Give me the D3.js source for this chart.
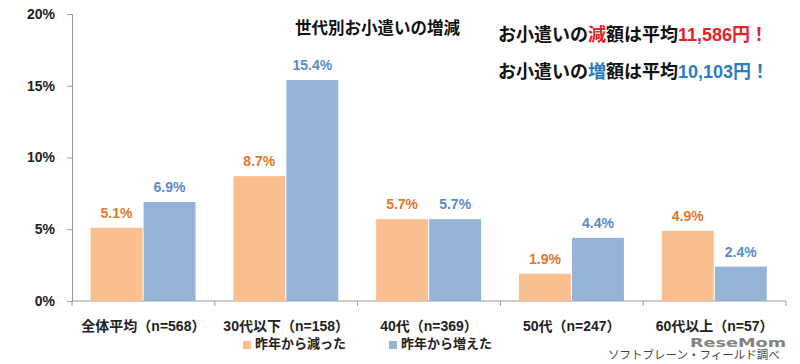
<!DOCTYPE html>
<html>
<head>
<meta charset="utf-8">
<script src="https://cdn.jsdelivr.net/npm/d3@7"></script>
<style>
  body { margin: 0; background: #fff; }
  svg text { font-family: "Liberation Sans", "Noto Sans CJK JP", sans-serif; }
</style>
</head>
<body>
<script>
// data
var categories = ["全体平均（n=568）", "30代以下（n=158）", "40代（n=369）", "50代（n=247）", "60代以上（n=57）"];
var seriesNames = ["昨年から減った", "昨年から増えた"];
var decreased = [5.1, 8.7, 5.7, 1.9, 4.9];
var increased = [6.9, 15.4, 5.7, 4.4, 2.4];
var yTicks = [0, 5, 10, 15, 20];

var barColors = ["#f9bf8f", "#95b3d7"];
var labelColors = ["#e3772a", "#5a8bc8"];

var width = 800, height = 364;

var svg = d3.select("body")
    .append("svg")
    .attr("width", width)
    .attr("height", height);

var x0 = d3.scaleBand()
    .domain(categories)
    .range([72, 786]);

var x1 = d3.scaleBand()
    .domain(seriesNames)
    .range([x0.bandwidth() * 0.13, x0.bandwidth() * 0.865])
    .paddingInner(0.02);

var y = d3.scaleLinear()
    .domain([0, 20])
    .range([301, 14]);

// y axis
var yAxis = svg.append("g")
    .attr("transform", "translate(72,0)")
    .call(d3.axisLeft(y).tickValues(yTicks).tickSize(5).tickFormat(function(d) { return d + "%"; }));
yAxis.select(".domain").attr("stroke", "#9a9a9a");
yAxis.selectAll(".tick line").attr("stroke", "#9a9a9a");
yAxis.selectAll(".tick text")
    .attr("x", -17)
    .attr("font-size", 14)
    .attr("font-weight", "bold")
    .attr("fill", "#222")
    .style("font-family", "\"Liberation Sans\", sans-serif");

// x axis, ticks on category boundaries
var xAxis = svg.append("g")
    .attr("transform", "translate(0," + y(0) + ")");
xAxis.append("line")
    .attr("x1", x0.range()[0]).attr("x2", x0.range()[1])
    .attr("stroke", "#9a9a9a");
xAxis.selectAll(".bound")
    .data(categories.concat([null]))
    .enter().append("line")
    .attr("class", "bound")
    .attr("x1", function(d, i) { return x0.range()[0] + i * x0.step(); })
    .attr("x2", function(d, i) { return x0.range()[0] + i * x0.step(); })
    .attr("y1", 0).attr("y2", 5)
    .attr("stroke", "#9a9a9a");
xAxis.selectAll(".cat")
    .data(categories)
    .enter().append("text")
    .attr("class", "cat")
    .attr("x", function(d) { return x0(d) + x0.bandwidth() / 2; })
    .attr("y", 30)
    .attr("text-anchor", "middle")
    .attr("font-size", 14)
    .attr("font-weight", "bold")
    .attr("fill", "#222")
    .text(function(d) { return d; });

// bars
var rows = categories.map(function(c, i) {
    return { cat: c, vals: [decreased[i], increased[i]] };
});

var groups = svg.append("g").selectAll("g")
    .data(rows)
    .enter().append("g")
    .attr("transform", function(d) { return "translate(" + x0(d.cat) + ",0)"; });

groups.selectAll("rect")
    .data(function(d) { return d.vals.map(function(v, j) { return { s: j, v: v }; }); })
    .enter().append("rect")
    .attr("x", function(d) { return x1(seriesNames[d.s]); })
    .attr("width", x1.bandwidth())
    .attr("y", function(d) { return y(d.v); })
    .attr("height", function(d) { return y(0) - y(d.v); })
    .attr("fill", function(d) { return barColors[d.s]; });

groups.selectAll("text")
    .data(function(d) { return d.vals.map(function(v, j) { return { s: j, v: v }; }); })
    .enter().append("text")
    .attr("x", function(d) { return x1(seriesNames[d.s]) + x1.bandwidth() / 2; })
    .attr("y", function(d) { return y(d.v) - 10; })
    .attr("text-anchor", "middle")
    .attr("font-size", 14)
    .attr("font-weight", "bold")
    .attr("fill", function(d) { return labelColors[d.s]; })
    .text(function(d) { return d.v.toFixed(1) + "%"; });

// title
svg.append("text")
    .attr("x", 295).attr("y", 34)
    .attr("font-size", 16.5)
    .attr("font-weight", "bold")
    .attr("fill", "#111")
    .text("世代別お小遣いの増減");

// callouts
var notes = [
    { y: 41, pre: "お小遣いの", key: "減", mid: "額は平均", amt: "11,586円！", color: "#e8202a" },
    { y: 78, pre: "お小遣いの", key: "増", mid: "額は平均", amt: "10,103円！", color: "#2a7cc7" }
];
notes.forEach(function(n) {
    var t = svg.append("text")
        .attr("x", 498).attr("y", n.y)
        .attr("font-size", 18)
        .attr("font-weight", "bold")
        .attr("fill", "#111");
    t.append("tspan").text(n.pre);
    t.append("tspan").attr("fill", n.color).text(n.key);
    t.append("tspan").text(n.mid);
    t.append("tspan").attr("fill", n.color).text(n.amt);
});

// legend
var legend = svg.append("g");
var legendX = [243, 389];
seriesNames.forEach(function(s, i) {
    legend.append("rect")
        .attr("x", legendX[i]).attr("y", 341)
        .attr("width", 8).attr("height", 8)
        .attr("fill", barColors[i]);
    legend.append("text")
        .attr("x", legendX[i] + 12).attr("y", 348)
        .attr("font-size", 13)
        .attr("font-weight", "bold")
        .attr("fill", "#222")
        .text(s);
});

// source + watermark
svg.append("text")
    .attr("x", 608).attr("y", 359)
    .attr("font-size", 11.5)
    .attr("fill", "#444")
    .text("ソフトブレーン・フィールド調べ");

svg.append("text")
    .attr("x", 690).attr("y", 347)
    .attr("font-size", 13)
    .attr("font-weight", "bold")
    .attr("fill", "#6e6e6e")
    .attr("opacity", 0.85)
    .attr("textLength", 96)
    .attr("lengthAdjust", "spacingAndGlyphs")
    .style("font-family", "\"DejaVu Sans\", sans-serif")
    .text("ReseMom");
</script>
</body>
</html>
